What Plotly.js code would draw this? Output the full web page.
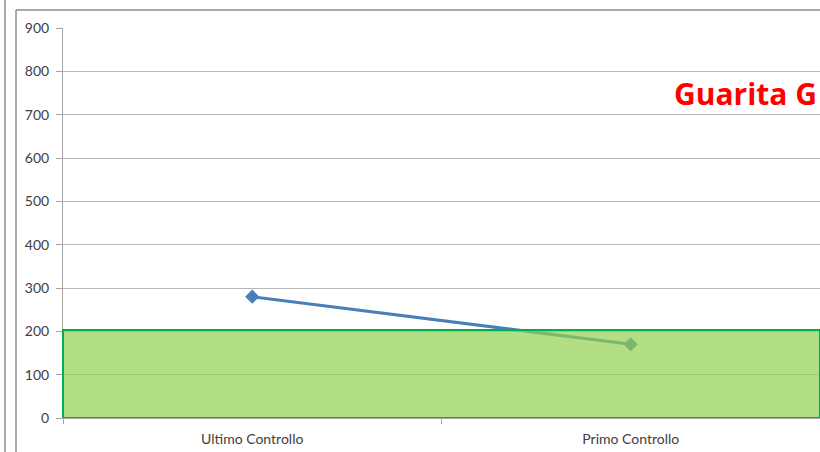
<!DOCTYPE html>
<html>
<head>
<meta charset="utf-8">
<script src="https://cdn.plot.ly/plotly-3.0.1.min.js"></script>
<style>html,body{margin:0;padding:0;background:#fff;}#chart{width:820px;height:452px;}</style>
</head>
<body>
<div id="chart"></div>
<script>
const categories = ["Ultimo Controllo", "Primo Controllo"];
const values = [280, 170];
const thresholdLow = 0;
const thresholdHigh = 203;
const yTicks = [0, 100, 200, 300, 400, 500, 600, 700, 800, 900];
const titleText = "Guarita G";

const trace = {
  x: categories,
  y: values,
  type: "scatter",
  mode: "lines+markers",
  line: {color: "#4A7EBB", width: 3},
  marker: {symbol: "diamond", size: 11, color: "#4A7EBB"},
  hoverinfo: "none",
  showlegend: false
};

const layout = {
  width: 820,
  height: 452,
  margin: {l: 63, r: 0, t: 28, b: 34},
  paper_bgcolor: "#ffffff",
  plot_bgcolor: "#ffffff",
  font: {family: "Lato, 'Open Sans', sans-serif", size: 14, color: "#404040"},
  xaxis: {
    type: "category",
    range: [-0.5, 1.5],
    showgrid: false,
    showline: true,
    linecolor: "#a6a6a6",
    linewidth: 1,
    ticks: "outside",
    tickson: "boundaries",
    ticklen: 5,
    tickcolor: "#a6a6a6",
    ticklabelstandoff: 8,
    tickfont: {size: 14, color: "#404040"},
    zeroline: false,
    fixedrange: true
  },
  yaxis: {
    range: [0, 900],
    tickvals: yTicks,
    showgrid: true,
    gridcolor: "#b8b8b8",
    gridwidth: 1,
    showline: true,
    linecolor: "#a6a6a6",
    ticks: "outside",
    ticklen: 6,
    tickcolor: "#a6a6a6",
    ticklabelstandoff: 4,
    tickfont: {size: 14, color: "#404040"},
    zeroline: false,
    fixedrange: true
  },
  shapes: [
    {
      type: "rect", xref: "paper", yref: "y",
      x0: 0, x1: 1, y0: thresholdLow, y1: thresholdHigh,
      fillcolor: "rgba(146,208,80,0.7)",
      line: {color: "#00B050", width: 2},
      layer: "above"
    },
    {
      type: "line", xref: "paper", yref: "paper",
      x0: -47/757, x1: 1.01, y0: (452-34-10)/390, y1: (452-34-10)/390,
      line: {color: "#8c8c8c", width: 1.5}
    },
    {
      type: "line", xref: "paper", yref: "paper",
      x0: -47/757, x1: -47/757, y0: (452-34-10)/390, y1: -0.2,
      line: {color: "#8c8c8c", width: 1.5}
    },
    {
      type: "line", xref: "paper", yref: "paper",
      x0: -58/757, x1: -58/757, y0: 1.2, y1: -0.2,
      line: {color: "#8c8c8c", width: 1.5}
    }
  ],
  annotations: [
    {
      text: titleText,
      xref: "paper", yref: "paper",
      x: (672-63)/757, y: (417-93)/390,
      xanchor: "left", yanchor: "middle",
      showarrow: false,
      font: {family: "'Open Sans', Lato, sans-serif", size: 30, color: "#FF0000", weight: "bold"}
    }
  ]
};

Plotly.newPlot("chart", [trace], layout, {staticPlot: true, displayModeBar: false});
</script>
</body>
</html>
